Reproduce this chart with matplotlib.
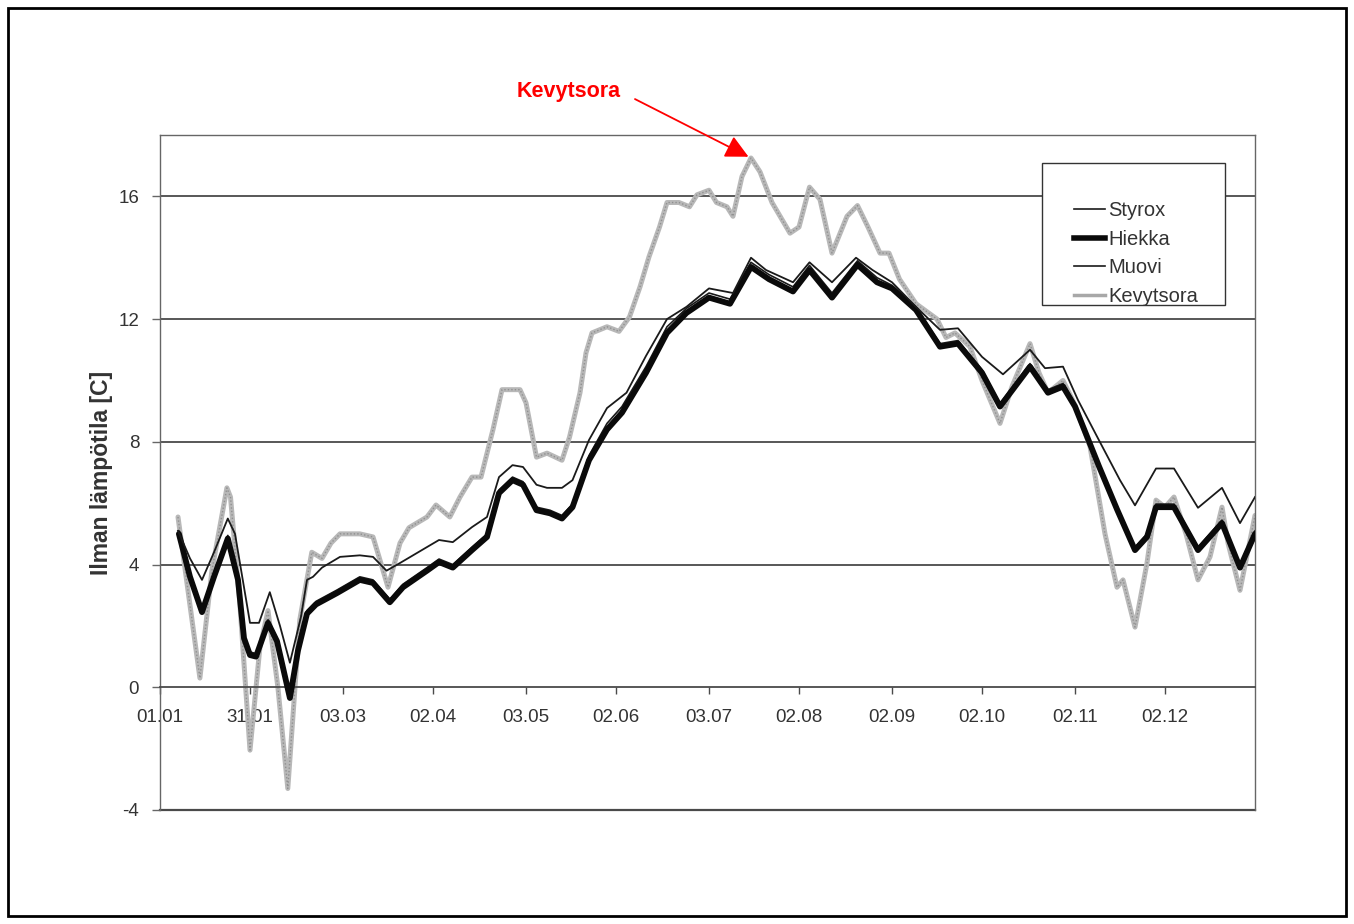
import matplotlib
matplotlib.use("Agg")
import matplotlib.pyplot as plt
from matplotlib.patches import Rectangle
from matplotlib.lines import Line2D

plt.rcParams['font.family'] = ['Liberation Sans', 'DejaVu Sans']

# ---- data: day of year vs. air temperature [C] ----
tick_days = [0, 30, 61, 91, 122, 152, 183, 213, 244, 274, 305, 335]
tick_labels = ["01.01", "31.01", "03.03", "02.04", "03.05", "02.06",
               "03.07", "02.08", "02.09", "02.10", "02.11", "02.12"]
y_ticks = [-4, 0, 4, 8, 12, 16]

styrox_day = [6, 10, 14, 18, 22.6, 25, 30, 33, 36.6, 40, 43.3, 47, 49, 51, 54, 60, 66.6,
              71, 75.5, 80, 89, 93, 97.6, 104, 109, 113, 117.5, 121, 125.5, 129, 134,
              137.5, 143, 149, 155.5, 162, 169, 175.5, 183, 191, 197, 202, 211, 216.5,
              224, 232, 237.5, 244, 252, 260, 266, 274, 281, 290, 295, 301, 306, 313,
              320, 325, 332, 338, 346, 354, 360, 365]
styrox_temp = [5.1, 4.2, 3.5, 4.4, 5.5, 5.0, 2.1, 2.1, 3.1, 2.0, 0.8, 2.3, 3.5, 3.6, 3.9,
               4.25, 4.3, 4.25, 3.8, 4.05, 4.57, 4.8, 4.73, 5.22, 5.55, 6.85, 7.24, 7.18,
               6.6, 6.5, 6.5, 6.75, 8.06, 9.1, 9.6, 10.8, 12.0, 12.4, 13.0, 12.85, 14.0,
               13.6, 13.2, 13.85, 13.2, 14.0, 13.6, 13.2, 12.4, 11.65, 11.7, 10.77, 10.2,
               11.0, 10.4, 10.45, 9.36, 8.05, 6.75, 5.93, 7.13, 7.13, 5.85, 6.5, 5.35, 6.2]

hiekka_day = [6.3, 10, 14, 18, 22.6, 26, 28, 30, 32, 36, 39, 43.3, 46, 49, 52, 59, 66.6,
              71, 76.6, 81, 89, 93, 97.6, 104, 109, 113, 117.5, 121, 125.5, 130, 134,
              137.5, 143, 149, 154, 162, 169, 175.5, 183, 190, 197, 203, 211, 216.5, 224,
              232.5, 239, 244, 252, 260, 266, 274, 280, 290, 296, 301, 305, 313, 319, 325,
              329, 332, 338, 346, 354, 360, 365]
hiekka_temp = [5.0, 3.6, 2.45, 3.6, 4.85, 3.5, 1.6, 1.05, 1.0, 2.1, 1.5, -0.35, 1.2, 2.4,
               2.7, 3.07, 3.5, 3.4, 2.77, 3.26, 3.8, 4.08, 3.9, 4.47, 4.9, 6.33, 6.75, 6.6,
               5.77, 5.67, 5.5, 5.87, 7.4, 8.4, 8.95, 10.25, 11.55, 12.2, 12.7, 12.5, 13.7,
               13.3, 12.9, 13.6, 12.7, 13.77, 13.2, 13.0, 12.3, 11.1, 11.2, 10.25, 9.15,
               10.45, 9.6, 9.8, 9.15, 7.2, 5.8, 4.47, 4.9, 5.87, 5.87, 4.47, 5.35, 3.9, 5.0]

muovi_day = hiekka_day
muovi_temp = [5.1, 3.7, 2.55, 3.7, 4.95, 3.6, 1.7, 1.15, 1.1, 2.2, 1.6, -0.25, 1.3, 2.5,
              2.8, 3.17, 3.6, 3.5, 2.87, 3.36, 3.9, 4.18, 4.0, 4.57, 5.0, 6.43, 6.85, 6.7,
              5.87, 5.77, 5.6, 5.97, 7.55, 8.6, 9.15, 10.45, 11.75, 12.35, 12.85, 12.65,
              13.85, 13.45, 13.05, 13.75, 12.85, 13.9, 13.35, 13.1, 12.4, 11.2, 11.3, 10.35,
              9.25, 10.55, 9.7, 9.9, 9.25, 7.3, 5.9, 4.57, 5.0, 5.97, 5.97, 4.57, 5.45,
              4.0, 5.1]

kevytsora_day = [6, 13.3, 17.3, 22.3, 23.5, 26.6, 30, 33.3, 36, 39.3, 42.6, 46.6, 50.6,
                 54, 57, 60, 66.6, 71, 73, 76, 80, 83, 89, 92, 96.6, 100, 104, 107, 111,
                 114, 120, 122, 125.5, 129, 134, 136.5, 140, 142, 144, 149, 153, 156.5,
                 160, 163, 166.5, 169, 173, 176.5, 179, 183, 185.5, 189, 191, 194, 197,
                 200, 204, 210, 213, 216.5, 220, 224, 229, 232.5, 236, 240, 243, 246.5,
                 252, 259, 262, 265, 270, 274, 280, 284, 290, 293, 296, 301, 305, 310,
                 315, 319, 321, 325, 329, 332, 335, 338, 342, 346, 350, 354, 356, 360, 365]
kevytsora_temp = [5.55, 0.3, 3.8, 6.5, 6.2, 2.75, -2.05, 1.3, 2.5, 0.0, -3.3, 2.2, 4.4,
                  4.2, 4.7, 5.0, 5.0, 4.9, 4.25, 3.26, 4.7, 5.2, 5.55, 5.94, 5.55, 6.2,
                  6.85, 6.85, 8.4, 9.7, 9.7, 9.27, 7.5, 7.63, 7.4, 8.15, 9.6, 10.9, 11.55,
                  11.75, 11.6, 12.07, 13.05, 14.03, 15.0, 15.8, 15.8, 15.66, 16.05, 16.2,
                  15.8, 15.66, 15.35, 16.65, 17.25, 16.8, 15.8, 14.8, 15.0, 16.3, 15.9,
                  14.15, 15.35, 15.7, 15.0, 14.15, 14.15, 13.3, 12.5, 12.0, 11.4, 11.55,
                  11.1, 10.0, 8.6, 9.8, 11.2, 10.25, 9.6, 10.0, 9.2, 7.85, 5.0, 3.26, 3.5,
                  1.96, 4.05, 6.1, 5.87, 6.2, 5.0, 3.5, 4.25, 5.87, 4.7, 3.16, 5.6]

peak_day = 197
peak_temp = 17.25

# ---- figure ----
W, H, DPI = 1354, 924, 100
fig = plt.figure(figsize=(W / DPI, H / DPI), dpi=DPI, facecolor='white')

# page frame
fig.patches.append(Rectangle((8 / W, 1 - 916 / H), 1338 / W, 908 / H,
                             transform=fig.transFigure, fill=False,
                             edgecolor='black', linewidth=2))

ax = fig.add_axes([160 / W, 1 - 810 / H, (1255 - 160) / W, (810 - 135) / H])
ax.set_xlim(0, 365)
ax.set_ylim(-4, 18)

grid_c = '#4a4a4a'
for y in [4, 8, 12, 16]:
    ax.axhline(y, color=grid_c, linewidth=1.3, zorder=1)
ax.axhline(-4, color=grid_c, linewidth=1.6, zorder=1, clip_on=False)

for side in ['left', 'right', 'top']:
    ax.spines[side].set_color('#666666')
    ax.spines[side].set_linewidth(1.0)
ax.spines['bottom'].set_position(('data', 0))
ax.spines['bottom'].set_color(grid_c)
ax.spines['bottom'].set_linewidth(1.3)

# series
ax.plot(kevytsora_day, kevytsora_temp, color='#b8b8b8', linewidth=3.6,
        solid_joinstyle='round', solid_capstyle='round', zorder=2)
ax.plot(kevytsora_day, kevytsora_temp, color='#909090', linewidth=1.0,
        linestyle=(0, (1, 1.5)), zorder=2.1)
ax.plot(muovi_day, muovi_temp, color='#1a1a1a', linewidth=1.2,
        solid_joinstyle='round', zorder=3)
ax.plot(hiekka_day, hiekka_temp, color='#0a0a0a', linewidth=4.2,
        solid_joinstyle='round', solid_capstyle='round', zorder=4)
ax.plot(styrox_day, styrox_temp, color='#1a1a1a', linewidth=1.3,
        solid_joinstyle='round', zorder=5)

ax.set_xticks(tick_days)
ax.set_xticklabels(tick_labels)
ax.set_yticks(y_ticks)
ax.set_yticklabels([str(v) for v in y_ticks])
ax.tick_params(axis='x', direction='out', length=5, width=1, color=grid_c,
               pad=11, labelsize=13.5, labelcolor='#333333')
ax.tick_params(axis='y', direction='out', length=6, width=1, color='#666666',
               pad=9, labelsize=13.5, labelcolor='#333333')

ax.set_ylabel('Ilman lämpötila [C]', fontsize=16.5, fontweight='bold',
              color='#333333', labelpad=4)

# legend box and entries
fig.patches.append(Rectangle((1042 / W, 1 - 305 / H), (1225 - 1042) / W, (305 - 163) / H,
                             transform=fig.transFigure, fill=True, facecolor='white',
                             edgecolor='#333333', linewidth=1.0, zorder=10))
handles = [
    Line2D([], [], color='#1a1a1a', linewidth=1.2),
    Line2D([], [], color='#0a0a0a', linewidth=4.0),
    Line2D([], [], color='#1a1a1a', linewidth=1.2),
    Line2D([], [], color='#a8a8a8', linewidth=2.5),
]
leg = fig.legend(handles, ['Styrox', 'Hiekka', 'Muovi', 'Kevytsora'],
                 loc='upper left', bbox_to_anchor=(1064 / W, 1 - 191 / H),
                 frameon=False, fontsize=14.5, handlelength=1.55, handletextpad=0.15,
                 labelspacing=0.48, borderpad=0, labelcolor='#333333')
leg.set_zorder(11)

# callout for the Kevytsora maximum
ax.annotate('Kevytsora', xy=(peak_day, peak_temp), xycoords='data',
            xytext=(569 / W, 1 - 92 / H), textcoords='figure fraction',
            ha='center', va='center', fontsize=15.5, fontweight='bold', color='red',
            arrowprops=dict(arrowstyle='-|>,head_length=0.9,head_width=0.45',
                            color='red', linewidth=1.3, shrinkA=9, shrinkB=2,
                            relpos=(1.0, 0.5)),
            annotation_clip=False)

fig.savefig('out.png', dpi=DPI, facecolor='white')
